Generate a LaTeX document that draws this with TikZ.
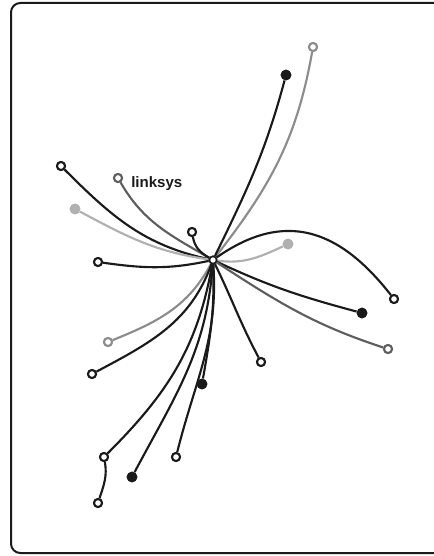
\documentclass[tikz,border=0pt]{standalone}
\usepackage{fontspec}
\setmainfont{Liberation Sans}
\definecolor{blk}{HTML}{1A1A1A}
\definecolor{dgray}{HTML}{5E5E5E}
\definecolor{mgray}{HTML}{8C8C8C}
\definecolor{lgray}{HTML}{B0B0B0}
\begin{document}
\begin{tikzpicture}[x=0.75pt,y=-0.75pt,
  link/.style={line width=1.6pt},
  opennode/.style={circle,draw,fill=white,line width=1.5pt,inner sep=0pt,minimum size=6pt},
  fillnode/.style={circle,fill,inner sep=0pt,minimum size=8pt},
  hub/.style={circle,draw=blk,fill=white,line width=1.2pt,inner sep=0pt,minimum size=5.5pt}]
\useasboundingbox (0,0) rectangle (433,556);
\draw[blk,line width=1.5pt,rounded corners=7] (11,3) rectangle (470,553);

\node[hub] (c) at (213,260) {};
\node[opennode,draw=mgray] (n1) at (313,47) {};
\node[fillnode,blk] (n2) at (286,75) {};
\node[opennode,draw=blk] (n3) at (61,166) {};
\node[opennode,draw=dgray] (n4) at (118,178) {};
\node[fillnode,lgray] (n5) at (75,209) {};
\node[opennode,draw=blk] (n6) at (192,232) {};
\node[opennode,draw=blk] (n7) at (98,262) {};
\node[fillnode,lgray] (n8) at (288,244) {};
\node[opennode,draw=blk] (n9) at (394,299) {};
\node[fillnode,blk] (n10) at (362,313) {};
\node[opennode,draw=dgray] (n11) at (388,349) {};
\node[opennode,draw=blk] (n12) at (261,362) {};
\node[opennode,draw=mgray] (n13) at (108,342) {};
\node[opennode,draw=blk] (n14) at (92,374) {};
\node[fillnode,blk] (n15) at (202,384) {};
\node[opennode,draw=blk] (n16) at (176,457) {};
\node[fillnode,blk] (n17) at (132,477) {};
\node[opennode,draw=blk] (n18) at (104,457) {};
\node[opennode,draw=blk] (n19) at (98,503) {};
\node[anchor=west,text=blk,font=\bfseries\fontsize{11.3}{13}\selectfont,inner sep=0pt] (lbl) at (131,184) {linksys};

\draw[link,mgray] (c) to[out=52,in=-100] (n1);
\draw[link,blk] (c) to[out=64,in=-105] (n2);
\draw[link,blk] (c) to[out=168,in=-45] (n3);
\draw[link,dgray] (c) to[out=150,in=-60] (n4);
\draw[link,lgray] (c) to[out=172,in=-28] (n5);
\draw[link,blk] (c) to[out=150,in=-80] (n6);
\draw[link,blk] (c) to[out=192,in=-8] (n7);
\draw[link,lgray] (c) to[out=-8,in=205] (n8);
\draw[link,blk] (c) to[out=35,in=128,looseness=1.2] (n9);
\draw[link,blk] (c) to[out=-25,in=165] (n10);
\draw[link,dgray] (c) to[out=-33,in=162] (n11);
\draw[link,blk] (c) to[out=-64,in=118] (n12);
\draw[link,mgray] (c) to[out=-118,in=22] (n13);
\draw[link,blk] (c) to[out=-110,in=28] (n14);
\draw[link,blk] (c) to[out=-88,in=80] (n15);
\draw[link,blk] (c) to[out=-86,in=76] (n16);
\draw[link,blk] (c) to[out=-94,in=62] (n17);
\draw[link,blk] (c) to[out=-100,in=45] (n18);
\draw[link,blk] (n18) to[out=-80,in=72] (n19);

% redraw nodes on top of the connectors
\node[hub] at (c) {};
\node[opennode,draw=mgray] at (n1) {};
\node[fillnode,blk] at (n2) {};
\node[opennode,draw=blk] at (n3) {};
\node[opennode,draw=dgray] at (n4) {};
\node[fillnode,lgray] at (n5) {};
\node[opennode,draw=blk] at (n6) {};
\node[opennode,draw=blk] at (n7) {};
\node[fillnode,lgray] at (n8) {};
\node[opennode,draw=blk] at (n9) {};
\node[fillnode,blk] at (n10) {};
\node[opennode,draw=dgray] at (n11) {};
\node[opennode,draw=blk] at (n12) {};
\node[opennode,draw=mgray] at (n13) {};
\node[opennode,draw=blk] at (n14) {};
\node[fillnode,blk] at (n15) {};
\node[opennode,draw=blk] at (n16) {};
\node[fillnode,blk] at (n17) {};
\node[opennode,draw=blk] at (n18) {};
\node[opennode,draw=blk] at (n19) {};
\end{tikzpicture}
\end{document}
